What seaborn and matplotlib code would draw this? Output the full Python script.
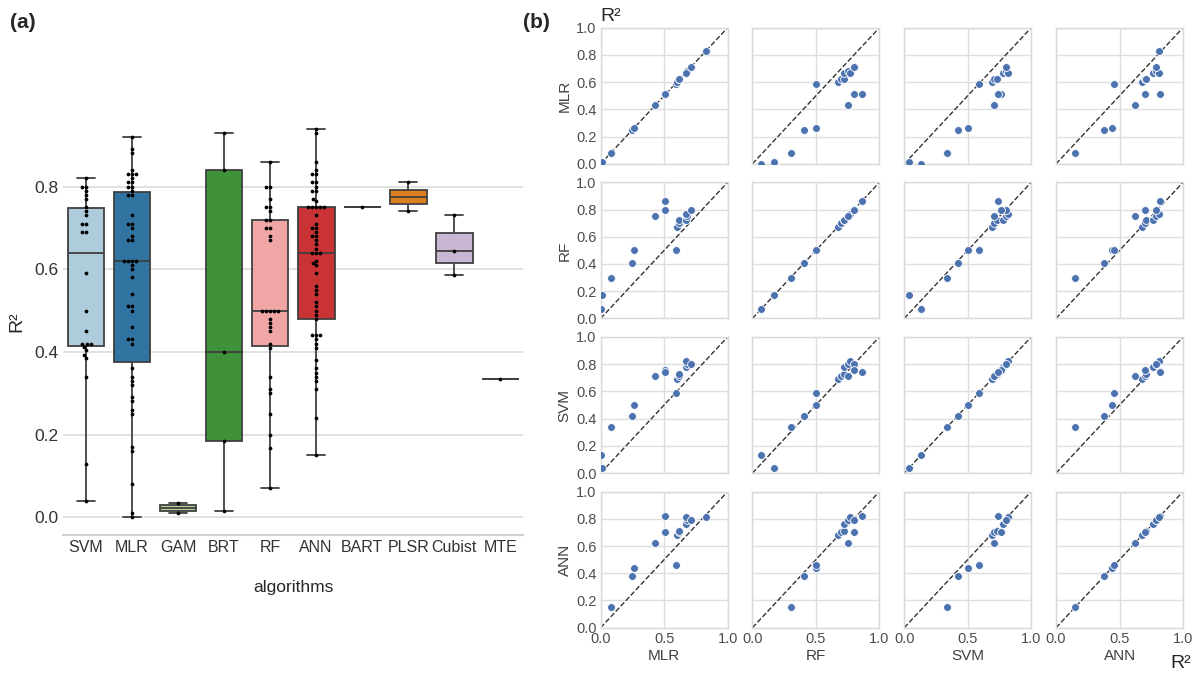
import numpy as np
import pandas as pd
import matplotlib
matplotlib.use("Agg")
import matplotlib.pyplot as plt
import seaborn as sns

# ---------------- Panel (a) data: R2 per algorithm ----------------
algorithms = ["SVM", "MLR", "GAM", "BRT", "RF", "ANN", "BART", "PLSR", "Cubist", "MTE"]

svm_r2 = [0.04, 0.13, 0.34, 0.385, 0.393, 0.405, 0.413, 0.42, 0.42, 0.42, 0.45, 0.50, 0.59,
          0.69, 0.69, 0.71, 0.71, 0.73, 0.74, 0.75, 0.77, 0.78, 0.79, 0.80, 0.80, 0.82]
mlr_r2 = [0.00, 0.01, 0.08, 0.16, 0.17, 0.25, 0.26, 0.28, 0.29, 0.32, 0.33, 0.34, 0.36,
          0.42, 0.43, 0.43, 0.46, 0.50, 0.51, 0.51, 0.54, 0.58, 0.60, 0.61, 0.62,
          0.62, 0.62, 0.62,
          0.67, 0.67, 0.68, 0.70, 0.71, 0.71, 0.73, 0.78, 0.78,
          0.79, 0.80, 0.80, 0.81, 0.81, 0.82, 0.83, 0.83, 0.83, 0.84, 0.88, 0.89, 0.92]
gam_r2 = [0.01, 0.035]
brt_r2 = [0.015, 0.185, 0.40, 0.84, 0.93]
rf_r2 = [0.07, 0.167, 0.20, 0.25, 0.30, 0.31, 0.34, 0.41, 0.42, 0.45, 0.46, 0.47, 0.48,
         0.50, 0.50, 0.50, 0.50, 0.50, 0.67, 0.68, 0.70, 0.70, 0.72, 0.72, 0.74, 0.75,
         0.75, 0.77, 0.80, 0.80, 0.86]
ann_r2 = [0.15, 0.24, 0.31, 0.33, 0.34, 0.35, 0.36, 0.38, 0.41, 0.42, 0.43, 0.44, 0.44, 0.44,
          0.48, 0.49, 0.50, 0.51, 0.52, 0.54, 0.55, 0.56, 0.59, 0.61, 0.615, 0.62,
          0.64, 0.64, 0.64,
          0.65, 0.66, 0.67, 0.68, 0.68, 0.69, 0.70, 0.70, 0.71, 0.73,
          0.75, 0.75, 0.75, 0.75, 0.75,
          0.765, 0.77, 0.79, 0.79, 0.80, 0.81, 0.81, 0.83, 0.83, 0.84, 0.86, 0.93, 0.94]
bart_r2 = [0.75]
plsr_r2 = [0.74, 0.81]
cubist_r2 = [0.585, 0.645, 0.73]
mte_r2 = [0.335]

# ---------------- Panel (b) data: paired R2 per study ----------------
pair_names = ["MLR", "RF", "SVM", "ANN"]
pair_mlr = [0.00, 0.01, 0.08, 0.25, 0.26, 0.59, 0.60, 0.62, 0.62, 0.67, 0.68, 0.67, 0.71, 0.43, 0.51, 0.51, 0.83]
pair_rf = [0.07, 0.17, 0.30, 0.41, 0.50, 0.50, 0.67, 0.70, 0.72, 0.72, 0.75, 0.77, 0.80, 0.75, 0.80, 0.86, np.nan]
pair_svm = [0.13, 0.04, 0.34, 0.42, 0.50, 0.59, 0.69, 0.71, 0.73, 0.78, 0.80, 0.82, 0.80, 0.71, 0.76, 0.74, np.nan]
pair_ann = [np.nan, np.nan, 0.15, 0.38, 0.44, 0.46, 0.68, 0.70, 0.71, 0.76, 0.79, 0.81, 0.79, 0.62, 0.70, 0.82, 0.81]

# ---------------- Build tables ----------------
values_by_alg = [svm_r2, mlr_r2, gam_r2, brt_r2, rf_r2, ann_r2, bart_r2, plsr_r2, cubist_r2, mte_r2]
long_df = pd.DataFrame({
    "algorithms": np.repeat(algorithms, [len(v) for v in values_by_alg]),
    "R2": np.concatenate(values_by_alg),
})
pair_df = pd.DataFrame({"MLR": pair_mlr, "RF": pair_rf, "SVM": pair_svm, "ANN": pair_ann})

sns.set_theme(style="whitegrid")
plt.rcParams["font.family"] = ["Liberation Sans", "DejaVu Sans"]

fig = plt.figure(figsize=(11.97, 6.74), dpi=100)

# ---------------- Panel (a) ----------------
ax_a = fig.add_axes([0.0526, 0.2062, 0.3845, 0.6336])
sns.boxplot(data=long_df, x="algorithms", y="R2", hue="algorithms", order=algorithms,
            hue_order=algorithms, palette="Paired", linecolor=".25", linewidth=1.3,
            legend=False, ax=ax_a)
sns.swarmplot(data=long_df, x="algorithms", y="R2", order=algorithms, color="black",
              size=2.7, ax=ax_a)
ax_a.set_ylim(-0.043, 0.99)
ax_a.set_yticks([0.0, 0.2, 0.4, 0.6, 0.8])
ax_a.set_ylabel("R²", fontsize=14, labelpad=6)
ax_a.set_xlabel("algorithms", fontsize=12.5, labelpad=18)
ax_a.tick_params(axis="x", labelsize=11.5, length=0, colors=".2")
ax_a.tick_params(axis="y", labelsize=12.5, length=0, colors=".2")
for s in ["left", "top", "right"]:
    ax_a.spines[s].set_visible(False)
ax_a.spines["bottom"].set_color(".82")
ax_a.spines["bottom"].set_linewidth(1.5)
ax_a.grid(axis="y", color=".85", linewidth=1.1)
ax_a.grid(axis="x", visible=False)

# ---------------- Panel (b) ----------------
gs = fig.add_gridspec(4, 4, left=0.5018, right=0.9883, top=0.9589, bottom=0.0687,
                      wspace=0.196, hspace=0.136)
for i, rv in enumerate(pair_names):
    for j, cv in enumerate(pair_names):
        ax = fig.add_subplot(gs[i, j])
        sns.scatterplot(data=pair_df, x=cv, y=rv, ax=ax, color="#4c72b0", s=32,
                        edgecolor="white", linewidth=0.6, zorder=3)
        ax.axline((0, 0), slope=1, ls="--", color=".2", lw=1.0, zorder=2)
        ax.set_xlim(0, 1)
        ax.set_ylim(0, 1)
        ax.set_xticks([0.0, 0.5, 1.0])
        ax.set_yticks([0.0, 0.2, 0.4, 0.6, 0.8, 1.0])
        ax.tick_params(axis="both", labelsize=10.5, length=0, colors=".3", pad=3)
        ax.grid(color=".87", linewidth=1.0)
        for s in ax.spines.values():
            s.set_color(".85")
            s.set_linewidth(1.0)
        if j == 0:
            ax.set_ylabel(rv, fontsize=11, color=".25", labelpad=3)
        else:
            ax.set_ylabel("")
            ax.tick_params(labelleft=False)
        if i == 3:
            ax.set_xlabel(cv, fontsize=11, color=".25", labelpad=2)
        else:
            ax.set_xlabel("")
            ax.tick_params(labelbottom=False)

fig.text(0.008, 0.966, "(a)", fontsize=15, fontweight="bold", va="center", ha="left")
fig.text(0.437, 0.966, "(b)", fontsize=15, fontweight="bold", va="center", ha="left")
fig.text(0.5015, 0.976, "R²", fontsize=14, va="center", ha="left")
fig.text(0.9775, 0.016, "R²", fontsize=14, va="center", ha="left")

fig.savefig("out.png", dpi=100, facecolor="white")
